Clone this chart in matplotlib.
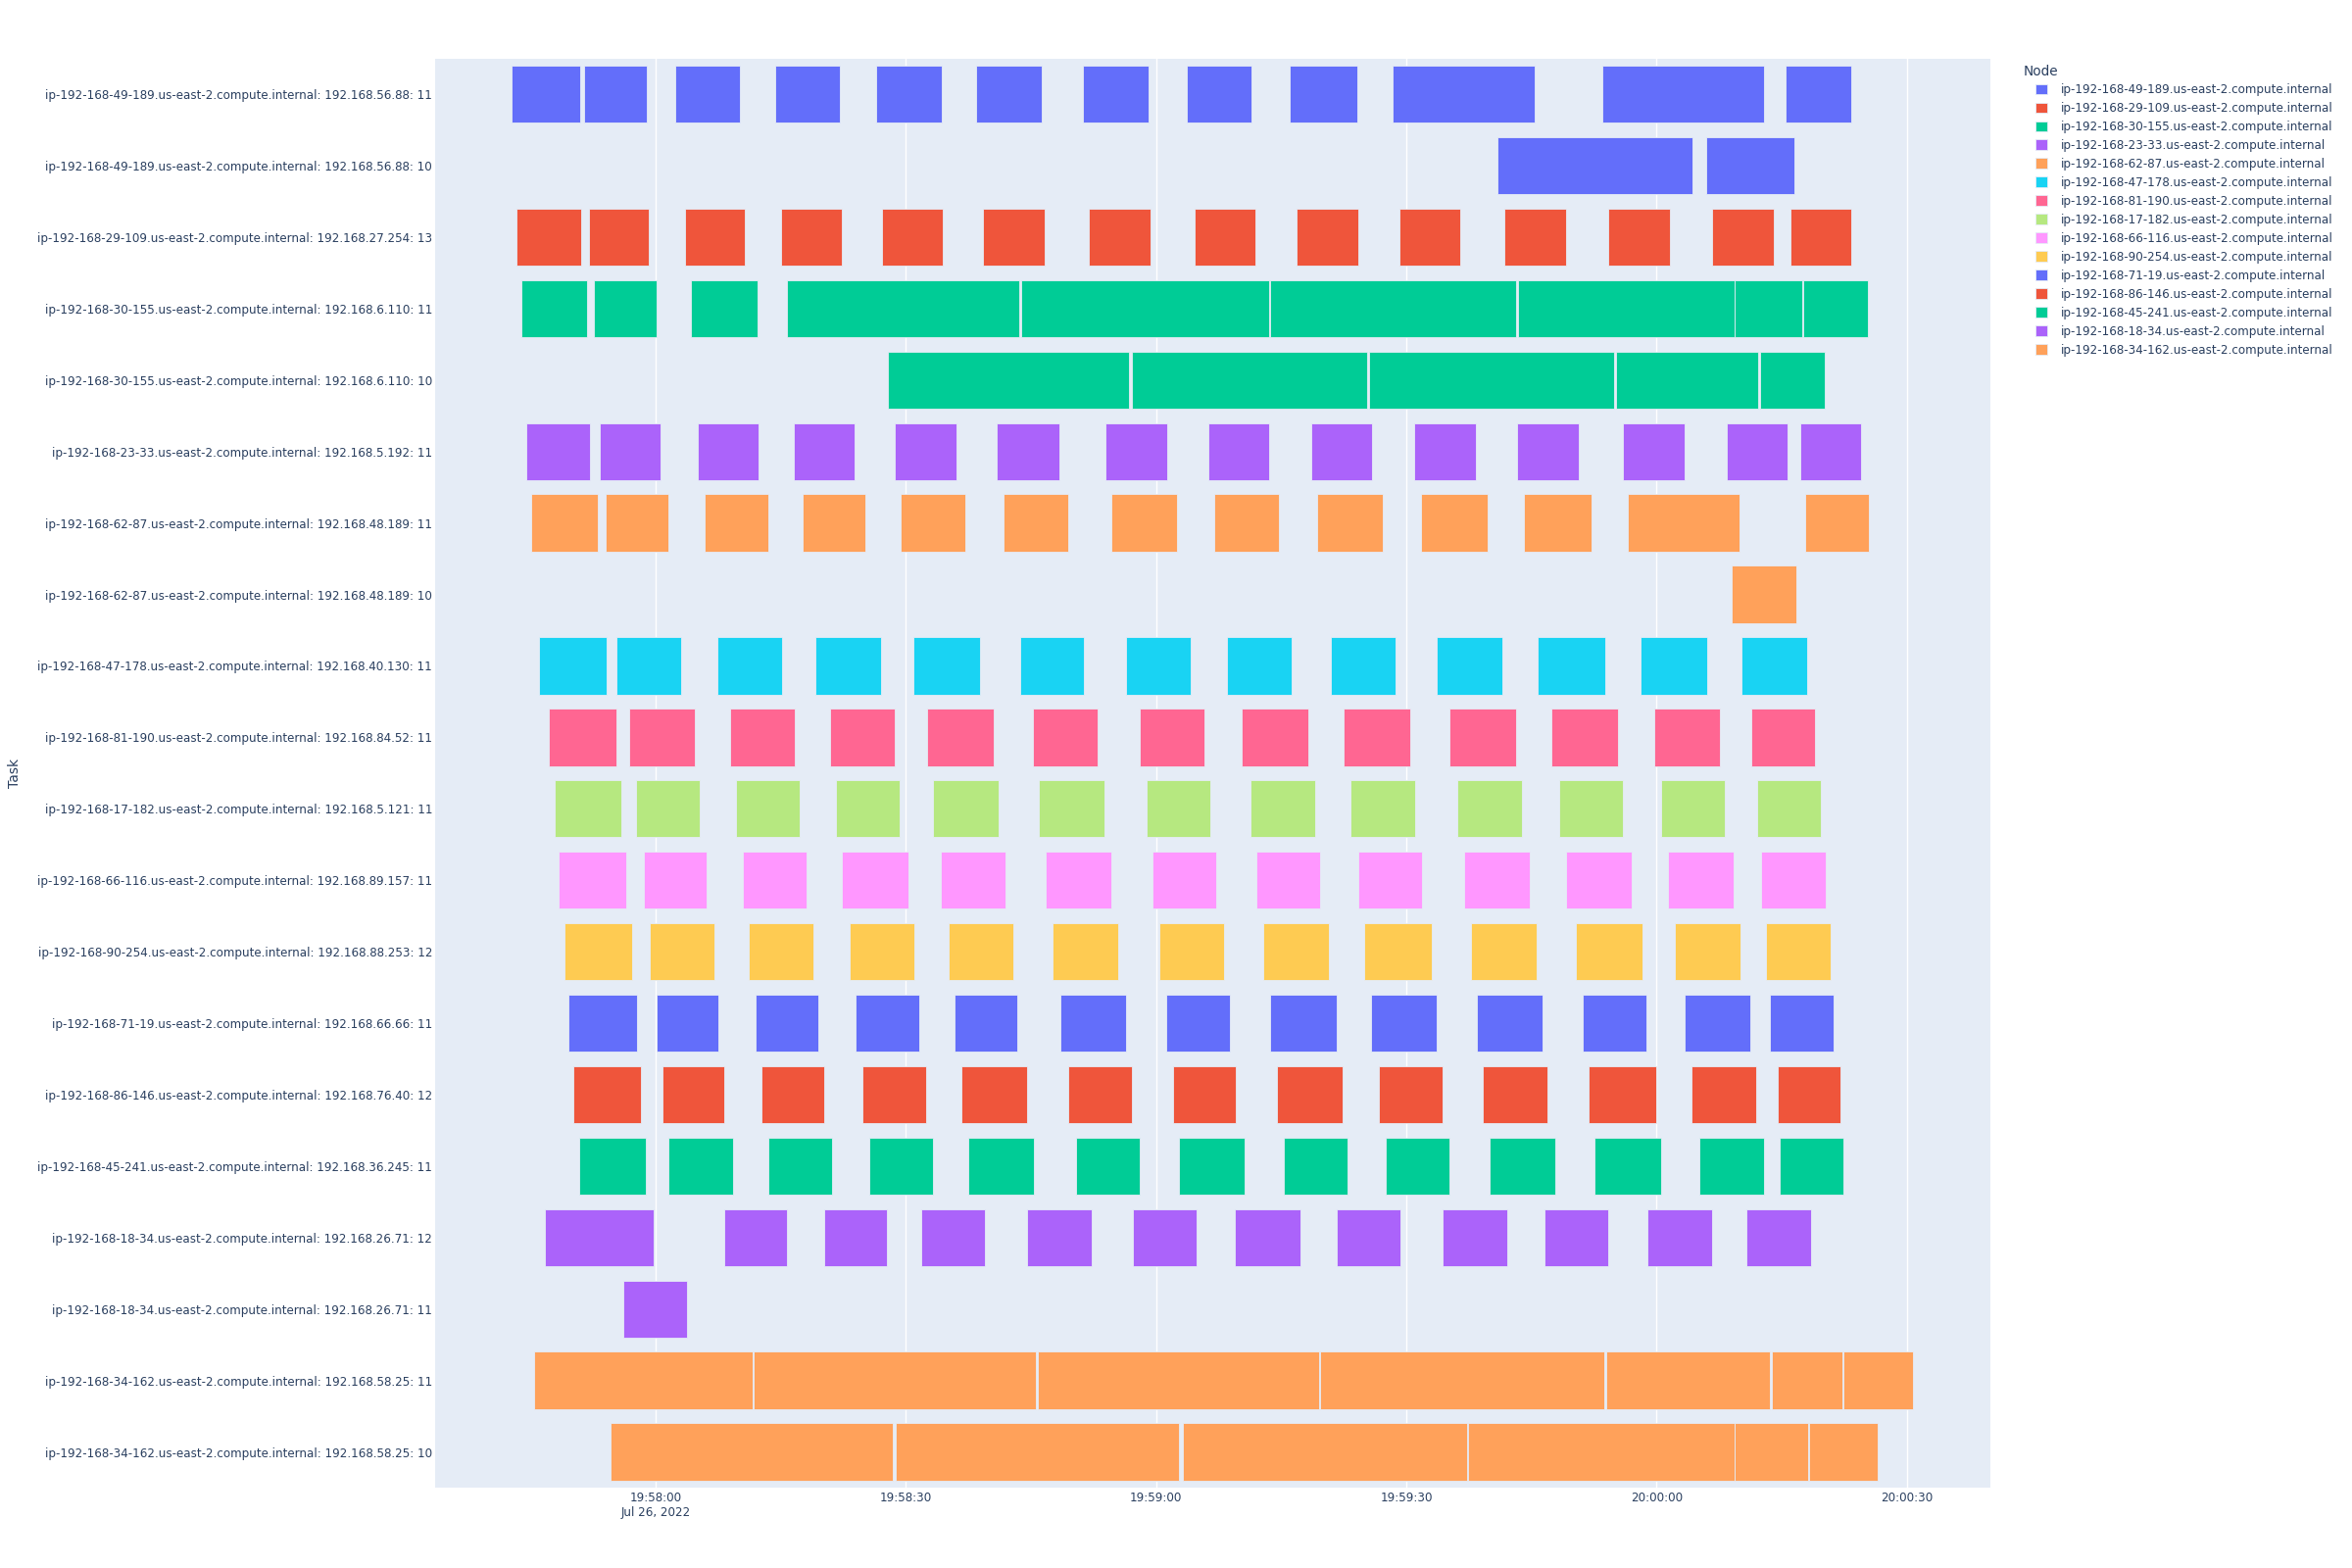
# timeline of tasks per node (plotly-style gantt)
import pandas as pd
import matplotlib
matplotlib.use("Agg")
import matplotlib.pyplot as plt
import matplotlib.dates as mdates
from matplotlib.patches import Patch

base = pd.Timestamp("2022-07-26 19:58:00")

nodes = [
    "ip-192-168-49-189.us-east-2.compute.internal",
    "ip-192-168-29-109.us-east-2.compute.internal",
    "ip-192-168-30-155.us-east-2.compute.internal",
    "ip-192-168-23-33.us-east-2.compute.internal",
    "ip-192-168-62-87.us-east-2.compute.internal",
    "ip-192-168-47-178.us-east-2.compute.internal",
    "ip-192-168-81-190.us-east-2.compute.internal",
    "ip-192-168-17-182.us-east-2.compute.internal",
    "ip-192-168-66-116.us-east-2.compute.internal",
    "ip-192-168-90-254.us-east-2.compute.internal",
    "ip-192-168-71-19.us-east-2.compute.internal",
    "ip-192-168-86-146.us-east-2.compute.internal",
    "ip-192-168-45-241.us-east-2.compute.internal",
    "ip-192-168-18-34.us-east-2.compute.internal",
    "ip-192-168-34-162.us-east-2.compute.internal",
]
node_colors = ["#636EFA", "#EF553B", "#00CC96", "#AB63FA", "#FFA15A",
               "#19D3F3", "#FF6692", "#B6E880", "#FF97FF", "#FECB52",
               "#636EFA", "#EF553B", "#00CC96", "#AB63FA", "#FFA15A"]

tasks = [
    "ip-192-168-49-189.us-east-2.compute.internal: 192.168.56.88: 11",
    "ip-192-168-49-189.us-east-2.compute.internal: 192.168.56.88: 10",
    "ip-192-168-29-109.us-east-2.compute.internal: 192.168.27.254: 13",
    "ip-192-168-30-155.us-east-2.compute.internal: 192.168.6.110: 11",
    "ip-192-168-30-155.us-east-2.compute.internal: 192.168.6.110: 10",
    "ip-192-168-23-33.us-east-2.compute.internal: 192.168.5.192: 11",
    "ip-192-168-62-87.us-east-2.compute.internal: 192.168.48.189: 11",
    "ip-192-168-62-87.us-east-2.compute.internal: 192.168.48.189: 10",
    "ip-192-168-47-178.us-east-2.compute.internal: 192.168.40.130: 11",
    "ip-192-168-81-190.us-east-2.compute.internal: 192.168.84.52: 11",
    "ip-192-168-17-182.us-east-2.compute.internal: 192.168.5.121: 11",
    "ip-192-168-66-116.us-east-2.compute.internal: 192.168.89.157: 11",
    "ip-192-168-90-254.us-east-2.compute.internal: 192.168.88.253: 12",
    "ip-192-168-71-19.us-east-2.compute.internal: 192.168.66.66: 11",
    "ip-192-168-86-146.us-east-2.compute.internal: 192.168.76.40: 12",
    "ip-192-168-45-241.us-east-2.compute.internal: 192.168.36.245: 11",
    "ip-192-168-18-34.us-east-2.compute.internal: 192.168.26.71: 12",
    "ip-192-168-18-34.us-east-2.compute.internal: 192.168.26.71: 11",
    "ip-192-168-34-162.us-east-2.compute.internal: 192.168.58.25: 11",
    "ip-192-168-34-162.us-east-2.compute.internal: 192.168.58.25: 10",
]
task_node = [0, 0, 1, 2, 2, 3, 4, 4, 5, 6, 7, 8, 9, 10, 11, 12, 13, 13, 14, 14]

# (start, end) in seconds after 19:58:00
spans = [
    [(-17.2, -9.0), (-8.6, -1.0), (2.4, 10.1), (14.3, 22.1), (26.5, 34.3), (38.4, 46.3),
     (51.2, 59.1), (63.7, 71.4), (76.0, 84.1), (88.4, 105.4), (113.5, 132.9), (135.4, 143.3)],
    [(100.9, 124.3), (125.9, 136.5)],
    [(-16.6, -8.9), (-8.0, -0.8), (3.5, 10.7), (15.1, 22.3), (27.2, 34.4), (39.2, 46.6),
     (52.0, 59.4), (64.6, 71.9), (76.9, 84.2), (89.2, 96.4), (101.8, 109.2), (114.2, 121.6),
     (126.7, 134.1), (136.0, 143.3)],
    [(-16.1, -8.2), (-7.4, 0.1), (4.2, 12.2), (15.8, 43.6), (43.8, 73.5), (73.7, 103.2),
     (103.4, 129.3), (129.4, 137.4), (137.6, 145.3)],
    [(27.9, 56.7), (57.1, 85.3), (85.5, 114.9), (115.1, 132.2), (132.4, 140.2)],
    [(-15.5, -7.9), (-6.7, 0.6), (5.1, 12.4), (16.6, 23.9), (28.7, 36.1), (40.9, 48.4),
     (53.9, 61.3), (66.3, 73.6), (78.6, 85.9), (90.9, 98.3), (103.3, 110.7), (115.9, 123.3),
     (128.4, 135.7), (137.2, 144.5)],
    [(-14.9, -6.9), (-6.0, 1.6), (5.9, 13.5), (17.6, 25.2), (29.4, 37.2), (41.7, 49.5),
     (54.7, 62.5), (67.0, 74.7), (79.3, 87.2), (91.8, 99.7), (104.1, 112.2), (116.6, 129.9),
     (137.8, 145.4)],
    [(129.0, 136.7)],
    [(-13.9, -5.8), (-4.7, 3.1), (7.4, 15.2), (19.2, 27.0), (30.9, 38.9), (43.7, 51.4),
     (56.4, 64.1), (68.5, 76.2), (80.9, 88.7), (93.6, 101.5), (105.7, 113.8), (118.1, 126.0),
     (130.2, 138.0)],
    [(-12.8, -4.7), (-3.1, 4.7), (9.0, 16.7), (20.9, 28.7), (32.6, 40.5), (45.2, 53.0),
     (58.0, 65.8), (70.3, 78.2), (82.5, 90.5), (95.2, 103.1), (107.4, 115.4), (119.7, 127.6),
     (131.3, 139.0)],
    [(-12.1, -4.1), (-2.3, 5.3), (9.7, 17.3), (21.6, 29.3), (33.3, 41.1), (46.0, 53.8),
     (58.9, 66.5), (71.3, 79.1), (83.3, 91.0), (96.1, 103.9), (108.3, 116.0), (120.5, 128.2),
     (132.0, 139.7)],
    [(-11.6, -3.5), (-1.4, 6.1), (10.5, 18.1), (22.4, 30.3), (34.2, 41.9), (46.8, 54.7),
     (59.6, 67.2), (72.0, 79.7), (84.2, 91.9), (96.9, 104.8), (109.1, 117.0), (121.4, 129.2),
     (132.5, 140.3)],
    [(-10.9, -2.8), (-0.7, 7.1), (11.2, 18.9), (23.3, 31.0), (35.1, 42.9), (47.6, 55.5),
     (60.4, 68.2), (72.8, 80.7), (85.0, 93.0), (97.7, 105.6), (110.3, 118.3), (122.2, 130.1),
     (133.1, 140.9)],
    [(-10.4, -2.2), (0.1, 7.6), (12.0, 19.5), (24.0, 31.6), (35.8, 43.4), (48.5, 56.4),
     (61.2, 68.9), (73.7, 81.6), (85.8, 93.6), (98.4, 106.3), (111.1, 118.8), (123.4, 131.2),
     (133.6, 141.2)],
    [(-9.8, -1.7), (0.8, 8.3), (12.7, 20.2), (24.8, 32.5), (36.7, 44.5), (49.5, 57.1),
     (62.0, 69.6), (74.5, 82.4), (86.7, 94.3), (99.2, 106.9), (111.9, 119.9), (124.2, 131.9),
     (134.5, 142.0)],
    [(-9.1, -1.1), (1.6, 9.3), (13.5, 21.2), (25.6, 33.3), (37.5, 45.4), (50.4, 58.1),
     (62.8, 70.6), (75.3, 83.0), (87.5, 95.2), (100.0, 107.9), (112.6, 120.5), (125.1, 132.9),
     (134.7, 142.4)],
    [(-13.3, -0.2), (8.2, 15.8), (20.2, 27.8), (31.8, 39.5), (44.5, 52.3), (57.2, 64.9),
     (69.4, 77.3), (81.6, 89.3), (94.4, 102.1), (106.5, 114.2), (118.9, 126.7), (130.8, 138.5)],
    [(-3.8, 3.8)],
    [(-14.5, 11.6), (11.8, 45.6), (45.8, 79.6), (79.7, 113.7), (113.9, 133.6), (133.8, 142.3),
     (142.4, 150.7)],
    [(-5.4, 28.4), (28.8, 62.8), (63.2, 97.3), (97.4, 129.3), (129.3, 138.2), (138.3, 146.5)],
]

tick_secs = [0, 30, 60, 90, 120, 150]
tick_labels = ["19:58:00\nJul 26, 2022", "19:58:30", "19:59:00", "19:59:30", "20:00:00", "20:00:30"]
x_range = (-26.4, 160.0)

txt = "#2a3f5f"
bg = "#E5ECF6"
plt.rcParams["font.family"] = ["DejaVu Sans"]


def tnum(sec):
    return mdates.date2num(base + pd.Timedelta(seconds=sec))


fig = plt.figure(figsize=(24, 16), dpi=100)
ax = fig.add_axes([0.185, 0.05125, 0.66125, 0.91144])
ax.set_facecolor(bg)

for row, (sp, ni) in enumerate(zip(spans, task_node)):
    lefts = [tnum(s) for s, e in sp]
    widths = [(e - s) / 86400.0 for s, e in sp]
    ax.barh([row] * len(sp), widths, left=lefts, height=0.8,
            color=node_colors[ni], edgecolor=bg, linewidth=0.6, zorder=3)

ax.set_ylim(len(tasks) - 0.5, -0.5)
ax.set_yticks(range(len(tasks)))
ax.set_yticklabels(tasks, fontsize=8.6, color=txt)
ax.set_xlim(tnum(x_range[0]), tnum(x_range[1]))
ax.set_xticks([tnum(s) for s in tick_secs])
ax.set_xticklabels(tick_labels, fontsize=8.6, color=txt)
ax.tick_params(axis="y", length=0, pad=2)
ax.tick_params(axis="x", length=0, pad=3)
ax.grid(axis="x", color="white", linewidth=1.0, zorder=1)
ax.set_axisbelow(True)
for s in ax.spines.values():
    s.set_visible(False)

ax.set_ylabel("Task", fontsize=10, color=txt)
ax.yaxis.set_label_coords(-0.266, 0.5)

# legend
handles = [Patch(facecolor=c, edgecolor=bg, linewidth=0.6) for c in node_colors]
fig.legend(handles, nodes, loc="upper left", bbox_to_anchor=(2077 / 2400, 1 - 85 / 1600),
           frameon=False, fontsize=8.6, labelcolor=txt, handlelength=1.0, handleheight=1.0,
           handletextpad=1.2, labelspacing=0.5, borderpad=0, borderaxespad=0)
fig.text(2065 / 2400, 1 - 73 / 1600, "Node", fontsize=9.8, color=txt, ha="left", va="center")

fig.savefig("out.png", dpi=100, facecolor="white")
